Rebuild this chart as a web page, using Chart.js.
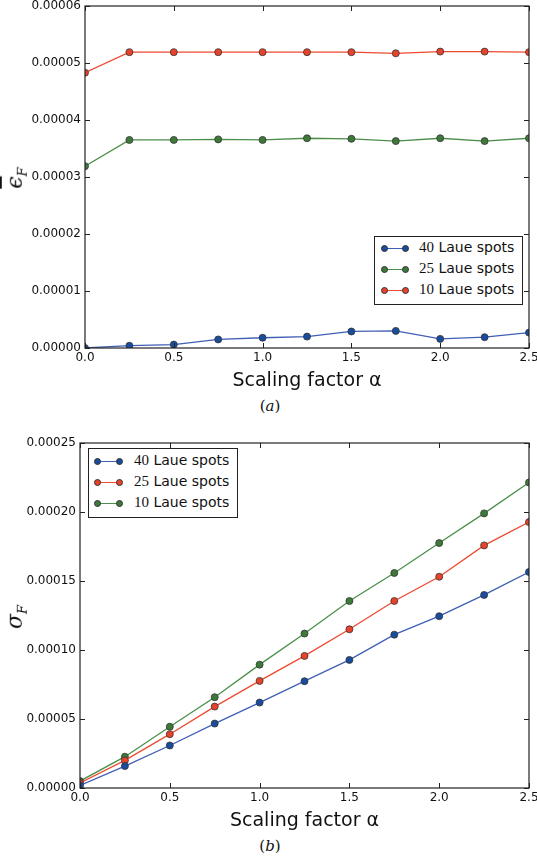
<!DOCTYPE html>
<html>
<head>
<meta charset="utf-8">
<script src="https://cdn.jsdelivr.net/npm/chart.js@4.4.0/dist/chart.umd.min.js"></script>
<style>
body { margin:0; width:537px; height:866px; background:#fff; position:relative; overflow:hidden; font-family:"DejaVu Sans"; color:#111; }
canvas { position:absolute; left:0; }
.ytitle { position:absolute; transform:translate(-50%,-50%) rotate(-90deg); font-family:"DejaVu Serif"; font-style:italic; font-size:22px; white-space:nowrap; }
.ytitle sub { font-size:13px; }
.bar { text-decoration:overline; }
.cap { position:absolute; transform:translate(-50%,-50%); font-family:"DejaVu Serif"; font-size:15px; }
.cap i { font-style:italic; }
.legend { position:absolute; border:1px solid #222; background:#fff; box-sizing:border-box; }
.row { position:absolute; left:0; height:21px; width:100%; }
.sample { position:absolute; top:10px; height:1.3px; }
.dot { position:absolute; top:-3px; width:7px; height:7px; border-radius:50%; box-sizing:border-box; border:0.8px solid #333; }
.lab { position:absolute; top:1px; font-size:14px; white-space:nowrap; }
.lab span { font-family:"Liberation Serif"; font-size:15px; }
</style>
</head>
<body>
<canvas id="chartA" width="537" height="396" style="top:0px"></canvas>
<canvas id="chartB" width="537" height="400" style="top:436px"></canvas>

<div class="ytitle" style="left:16px;top:178px"><span class="bar">ϵ</span><sub>F</sub></div>
<div class="ytitle" style="left:16px;top:617px">σ<sub>F</sub></div>
<div class="cap" style="left:270px;top:406px">(<i>a</i>)</div>
<div class="cap" style="left:270px;top:846px">(<i>b</i>)</div>

<div id="legA" class="legend" style="left:374px;top:236px;width:149px;height:69px"></div>
<div id="legB" class="legend" style="left:88px;top:448px;width:150px;height:70px"></div>

<script>
// scaling factor alpha
var alphas = [0, 0.25, 0.5, 0.75, 1.0, 1.25, 1.5, 1.75, 2.0, 2.25, 2.5];

// (a) mean error
var epsA40 = [0.0000000, 0.0000004, 0.0000006, 0.0000015, 0.0000018, 0.0000020, 0.0000029, 0.0000030, 0.0000016, 0.0000019, 0.0000027];
var epsA25 = [0.0000319, 0.0000365, 0.0000365, 0.0000366, 0.0000365, 0.0000368, 0.0000367, 0.0000363, 0.0000368, 0.0000363, 0.0000368];
var epsA10 = [0.0000483, 0.0000519, 0.0000519, 0.0000519, 0.0000519, 0.0000519, 0.0000519, 0.0000517, 0.0000520, 0.0000520, 0.0000519];

// (b) sigma
var sigB40 = [0.0000019, 0.0000159, 0.0000308, 0.0000467, 0.0000619, 0.0000774, 0.0000928, 0.0001111, 0.0001245, 0.0001399, 0.0001565];
var sigB25 = [0.0000036, 0.0000200, 0.0000390, 0.0000590, 0.0000776, 0.0000957, 0.0001150, 0.0001355, 0.0001531, 0.0001758, 0.0001927];
var sigB10 = [0.0000050, 0.0000227, 0.0000444, 0.0000658, 0.0000894, 0.0001119, 0.0001355, 0.0001558, 0.0001775, 0.0001990, 0.0002214];

var seriesNames = ['40', '25', '10'];

var blue = { line: '#3f5fb5', dot: '#1a4c9e' };
var green = { line: '#4b8f4b', dot: '#3d7a3a' };
var red = { line: '#ee4a30', dot: '#e8432a' };

Chart.defaults.font.family = 'DejaVu Sans';
Chart.defaults.color = '#111';

function pts(vals) {
  return vals.map(function (v, i) { return { x: alphas[i], y: v }; });
}

function ds(name, vals, c) {
  return {
    label: name + ' Laue spots',
    data: pts(vals),
    borderColor: c.line,
    backgroundColor: c.dot,
    pointBackgroundColor: c.dot,
    pointBorderColor: '#333',
    pointBorderWidth: 0.8,
    pointRadius: 3.5,
    borderWidth: 1.3,
    tension: 0
  };
}

// matplotlib style box with inward ticks
var frame = {
  id: 'frame',
  afterDatasetsDraw: function (chart) {
    var ctx = chart.ctx, a = chart.chartArea, x = chart.scales.x, y = chart.scales.y;
    ctx.save();
    ctx.strokeStyle = '#222';
    ctx.lineWidth = 1.2;
    ctx.strokeRect(a.left, a.top, a.right - a.left, a.bottom - a.top);
    ctx.lineWidth = 1;
    ctx.beginPath();
    x.ticks.forEach(function (t) {
      var px = Math.round(x.getPixelForValue(t.value)) + 0.5;
      ctx.moveTo(px, a.bottom); ctx.lineTo(px, a.bottom - 5);
      ctx.moveTo(px, a.top); ctx.lineTo(px, a.top + 5);
    });
    y.ticks.forEach(function (t) {
      var py = Math.round(y.getPixelForValue(t.value)) + 0.5;
      ctx.moveTo(a.left, py); ctx.lineTo(a.left + 5, py);
      ctx.moveTo(a.right, py); ctx.lineTo(a.right - 5, py);
    });
    ctx.stroke();
    ctx.restore();
  }
};

function makeChart(id, datasets, yMax, yStep, yWidth, padTop, xHeight) {
  return new Chart(document.getElementById(id), {
    type: 'line',
    data: { datasets: datasets },
    options: {
      responsive: false,
      animation: false,
      layout: { padding: { top: padTop, right: 8, bottom: 0, left: 0 } },
      plugins: { legend: { display: false }, tooltip: { enabled: false } },
      scales: {
        x: {
          type: 'linear', min: 0, max: 2.5,
          ticks: { stepSize: 0.5, font: { size: 12 }, padding: 3, callback: function (v) { return v.toFixed(1); } },
          grid: { display: false, drawTicks: false },
          border: { display: false },
          title: { display: true, text: 'Scaling factor α', font: { size: 19 }, padding: { top: 4, bottom: 4 } },
          afterFit: function (s) { s.height = xHeight; s.paddingLeft = 0; s.paddingRight = 0; }
        },
        y: {
          type: 'linear', min: 0, max: yMax,
          ticks: { stepSize: yStep, font: { size: 12 }, padding: 4, callback: function (v) { return v.toFixed(5); } },
          grid: { display: false, drawTicks: false },
          border: { display: false },
          afterFit: function (s) { s.width = yWidth; s.paddingTop = 0; s.paddingBottom = 0; }
        }
      }
    },
    plugins: [frame]
  });
}

var chartA = makeChart('chartA', [
  ds(seriesNames[0], epsA40, blue),
  ds(seriesNames[1], epsA25, green),
  ds(seriesNames[2], epsA10, red)
], 0.00006, 0.00001, 85, 6, 48);

var chartB = makeChart('chartB', [
  ds(seriesNames[0], sigB40, blue),
  ds(seriesNames[1], sigB25, red),
  ds(seriesNames[2], sigB10, green)
], 0.00025, 0.00005, 80, 7, 48);

// legends built from the chart datasets
function buildLegend(el, chart, firstTop, sx, sw, tx) {
  chart.data.datasets.forEach(function (d, i) {
    var row = document.createElement('div');
    row.className = 'row';
    row.style.top = (firstTop + i * 21) + 'px';
    var num = d.label.split(' ')[0];
    row.innerHTML =
      '<div class="sample" style="left:' + sx + 'px;width:' + sw + 'px;background:' + d.borderColor + '">' +
      '<div class="dot" style="left:-3.5px;background:' + d.pointBackgroundColor + '"></div>' +
      '<div class="dot" style="left:' + (sw - 3.5) + 'px;background:' + d.pointBackgroundColor + '"></div></div>' +
      '<div class="lab" style="left:' + tx + 'px"><span>' + num + '</span> Laue spots</div>';
    el.appendChild(row);
  });
}
buildLegend(document.getElementById('legA'), chartA, 1, 9, 21, 44);
buildLegend(document.getElementById('legB'), chartB, 2, 8, 22, 45);
</script>
</body>
</html>
